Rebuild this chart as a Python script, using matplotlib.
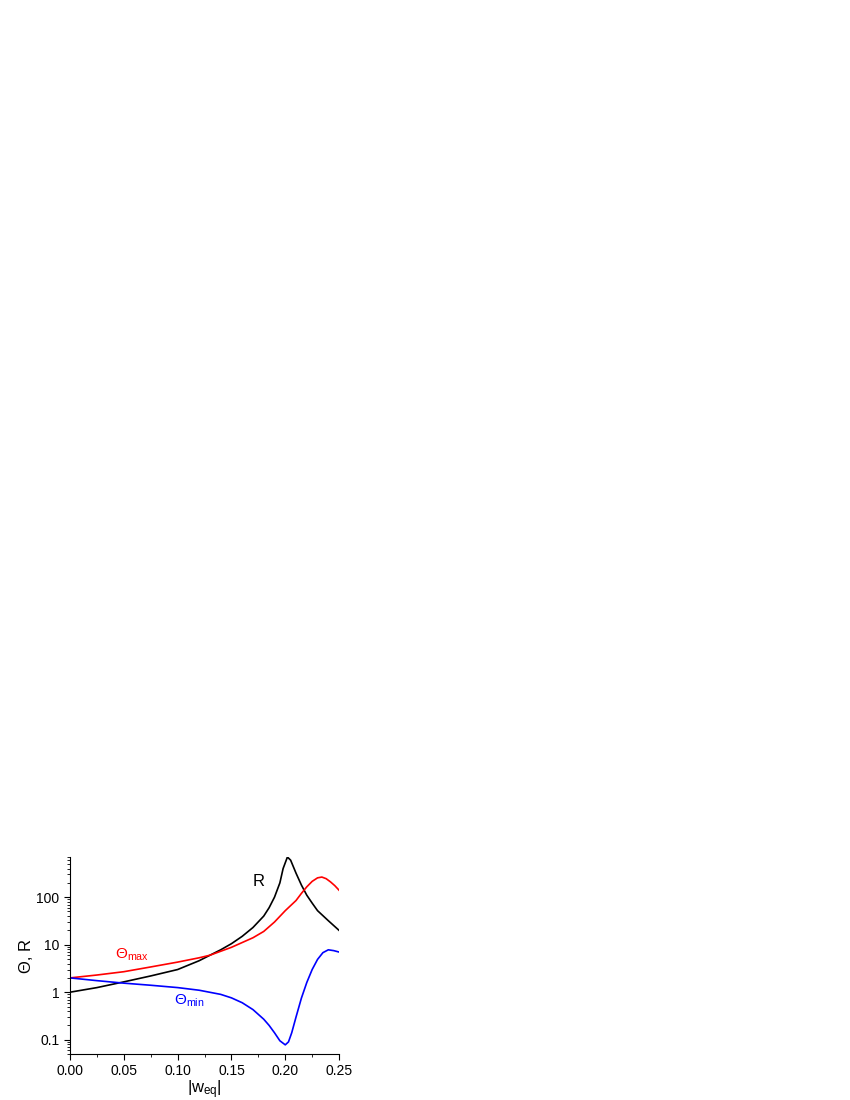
import matplotlib
matplotlib.use("Agg")
import matplotlib.pyplot as plt
from matplotlib.ticker import FixedLocator, LogLocator, NullFormatter, MultipleLocator

plt.rcParams["font.family"] = ["Liberation Sans", "DejaVu Sans"]
plt.rcParams["mathtext.fontset"] = "custom"
plt.rcParams["mathtext.rm"] = "Liberation Sans"
plt.rcParams["mathtext.it"] = "Liberation Sans"

r_x = [0.0, 0.025, 0.05, 0.075, 0.1, 0.12, 0.13, 0.14, 0.15, 0.16, 0.17, 0.18, 0.185, 0.19,
       0.195, 0.198, 0.202, 0.205, 0.21, 0.215, 0.22, 0.225, 0.23, 0.24, 0.25]
r_y = [1.0, 1.25, 1.65, 2.2, 3.0, 4.6, 6.0, 7.8, 10.5, 15, 23, 40, 60, 100,
       200, 400, 700, 600, 320, 180, 110, 75, 52, 32, 20]

tmax_x = [0.0, 0.025, 0.05, 0.075, 0.1, 0.12, 0.13, 0.15, 0.17, 0.18, 0.19, 0.2, 0.21,
          0.215, 0.22, 0.225, 0.23, 0.234, 0.238, 0.242, 0.246, 0.25]
tmax_y = [2.0, 2.3, 2.7, 3.4, 4.3, 5.3, 6.0, 8.8, 14, 19, 30, 52, 85,
          120, 165, 215, 255, 265, 245, 210, 175, 140]

tmin_x = [0.0, 0.025, 0.05, 0.075, 0.1, 0.12, 0.14, 0.15, 0.16, 0.17, 0.18, 0.185, 0.19,
          0.195, 0.2, 0.203, 0.206, 0.21, 0.215, 0.22, 0.225, 0.23, 0.235, 0.24, 0.245, 0.25]
tmin_y = [2.0, 1.75, 1.55, 1.4, 1.25, 1.1, 0.9, 0.76, 0.6, 0.43, 0.27, 0.2, 0.14,
          0.095, 0.078, 0.09, 0.14, 0.3, 0.75, 1.6, 3.0, 4.9, 6.8, 7.8, 7.5, 7.0]

fig = plt.figure(figsize=(8.5, 11), dpi=100)
ax = fig.add_axes([0.0824, 0.0418, 0.3165, 0.1791])
ax.plot(r_x, r_y, color="black", lw=1.2)
ax.plot(tmax_x, tmax_y, color="#FF0000", lw=1.2)
ax.plot(tmin_x, tmin_y, color="#0000FF", lw=1.2)

ax.set_yscale("log")
ax.set_xlim(0, 0.25)
ax.set_ylim(0.05, 700)
ax.yaxis.set_major_locator(FixedLocator([0.1, 1, 10, 100]))
ax.set_yticklabels(["0.1", "1", "10", "100"])
ax.yaxis.set_minor_locator(LogLocator(base=10, subs=range(2, 10)))
ax.yaxis.set_minor_formatter(NullFormatter())
ax.xaxis.set_major_locator(MultipleLocator(0.05))
ax.xaxis.set_minor_locator(MultipleLocator(0.025))
ax.xaxis.set_major_formatter(plt.FuncFormatter(lambda v, _: f"{v:.2f}"))
ax.spines["top"].set_visible(False)
ax.spines["right"].set_visible(False)
ax.tick_params(which="major", length=4, labelsize=10)
ax.tick_params(which="minor", length=2)

ax.set_xlabel(r"|w$_{\mathrm{eq}}$|", fontsize=12, labelpad=0)
ax.set_ylabel("Θ, R", fontsize=12, labelpad=2)

ax.text(0.17, 170, "R", fontsize=12)
ax.text(0.042, 5.0, r"Θ$_{\mathrm{max}}$", fontsize=11, color="#FF0000")
ax.text(0.097, 0.55, r"Θ$_{\mathrm{min}}$", fontsize=11, color="#0000FF")

fig.savefig("out.png", dpi=100)
